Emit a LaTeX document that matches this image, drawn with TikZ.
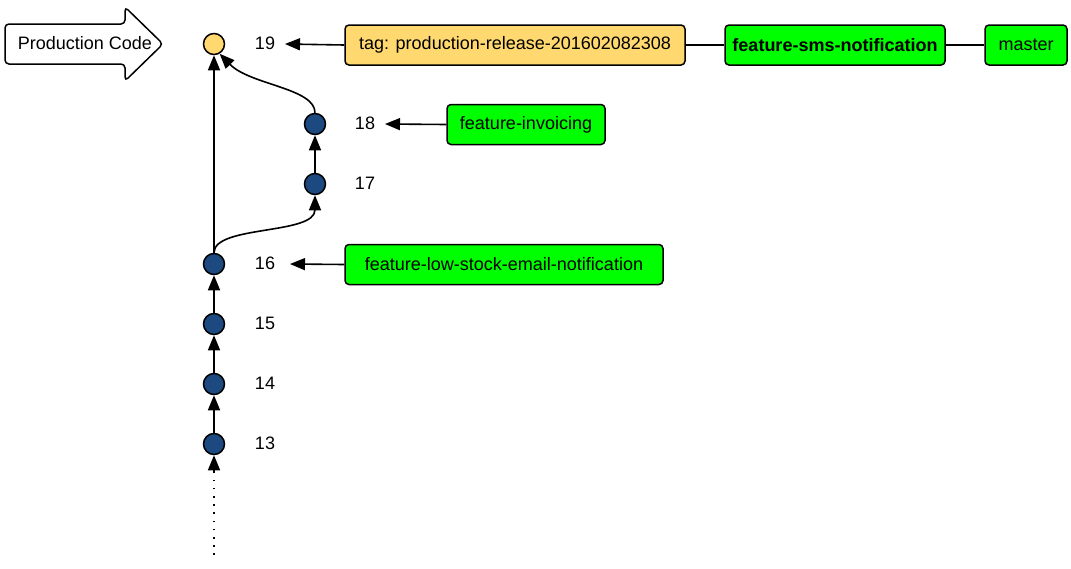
\documentclass[tikz,border=0pt]{standalone}
\usepackage{fontspec}
\setmainfont{Liberation Sans}
\usetikzlibrary{arrows.meta}
\definecolor{cblue}{HTML}{1C4A80}
\definecolor{tagyel}{HTML}{FFD970}
\definecolor{brgreen}{HTML}{00FF00}
\begin{document}
\begin{tikzpicture}[x=1pt,y=-1pt,
  font=\fontsize{18}{21}\selectfont,
  commit/.style={circle,draw=black,line width=1.5pt,fill=cblue,minimum size=21pt,inner sep=0pt},
  ref/.style={draw=black,line width=1.5pt,rounded corners=4pt,fill=brgreen,minimum height=40pt,inner sep=2pt},
  lbl/.style={inner sep=0pt},
  edge/.style={line width=1.6pt,-{Triangle[length=15pt,width=12pt]}},
  link/.style={line width=1.6pt}]
\useasboundingbox (0,0) rectangle (1071,568);
% production code arrow
\draw[line width=1.5pt,rounded corners=4pt,fill=white]
  (5,24) -- (125,24) -- (125,7) -- (163,44) -- (125,81) -- (125,64) -- (5,64) -- cycle;
\node[lbl] (prod) at (85,43) {Production Code};
% commits
\node[commit,fill=tagyel] (c19) at (214,44) {};
\node[commit] (c18) at (315,124) {};
\node[commit] (c17) at (315,184) {};
\node[commit] (c16) at (214,264) {};
\node[commit] (c15) at (214,324) {};
\node[commit] (c14) at (214,384) {};
\node[commit] (c13) at (214,444) {};
% labels
\node[lbl] (l19) at (265,43) {19};
\node[lbl] (l18) at (365,123) {18};
\node[lbl] (l17) at (365,183) {17};
\node[lbl] (l16) at (265,263) {16};
\node[lbl] (l15) at (265,323) {15};
\node[lbl] (l14) at (265,383) {14};
\node[lbl] (l13) at (265,443) {13};
% refs
\node[ref,fill=tagyel,minimum width=340pt] (tag) at (515,45) {tag: production-release-201602082308};
\node[ref,minimum width=220pt] (sms) at (835,45) {\bfseries feature-sms-notification};
\node[ref,minimum width=82pt] (master) at (1026,45) {master};
\node[ref,minimum width=158pt] (inv) at (526,124.5) {feature-invoicing};
\node[ref,minimum width=318pt] (low) at (504,264.5) {feature-low-stock-email-notification};
% ref arrows
\coordinate (t19) at (285,44);
\coordinate (t18) at (385,124);
\coordinate (t16) at (290,264);
\draw[edge] (tag.west) -- (t19);
\draw[edge] (inv.west) -- (t18);
\draw[edge] (low.west) -- (t16);
\draw[link] (tag.east) -- (sms.west);
\draw[link] (sms.east) -- (master.west);
% history
\coordinate (dotstart) at (214,555);
\draw[line width=1.6pt,dash pattern=on 1.6pt off 6.6pt] (dotstart) -- (214,468);
\draw[edge] (214,470) -- (c13.south);
\draw[edge] (c13.north) -- (c14.south);
\draw[edge] (c14.north) -- (c15.south);
\draw[edge] (c15.north) -- (c16.south);
\draw[edge] (c16.north) -- (c19.south);
\draw[edge] (c16.north) .. controls (214,225) and (315,235) .. (c17.south);
\draw[edge] (c17.north) -- (c18.south);
\draw[edge] (c18.north) .. controls (315,88) and (250,85) .. (c19.-60);
\end{tikzpicture}
\end{document}
